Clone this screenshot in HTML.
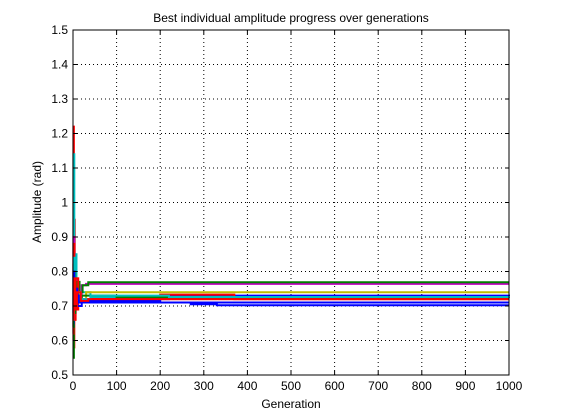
<!DOCTYPE html>
<html><head><meta charset="utf-8"><style>
body{margin:0;background:#fff;}
svg{display:block;font-family:"Liberation Sans",sans-serif;}
</style></head><body>
<svg id="chart" width="561" height="420" viewBox="0 0 561 420">
<rect x="0" y="0" width="561" height="420" fill="#fff"/>
<text x="291" y="22" font-size="12" text-anchor="middle">Best individual amplitude progress over generations</text>
<text x="291" y="408" font-size="12" text-anchor="middle">Generation</text>
<text transform="translate(41,202) rotate(-90)" font-size="12" text-anchor="middle">Amplitude (rad)</text>
<g id="grid"></g><g id="series"></g><g id="axes"></g>
</svg>
<script>
const xTicks=[0,100,200,300,400,500,600,700,800,900,1000];
const yTicks=[0.5,0.6,0.7,0.8,0.9,1,1.1,1.2,1.3,1.4,1.5];
const seriesColors=["#ff0000","#00bfbf","#0000ff","#bf00bf","#007f00","#bfbf00","#ff0000","#0000ff","#007f00","#00bfbf","#0000ff","#ff0000"];
const seriesGens=[
[0,1,2,3,4,5,8,12,20,1000],
[0,1,3,5,8,15,40,1000],
[0,2,4,6,10,20,80,220,1000],
[0,1,3,6,10,20,30,1000],
[0,2,5,8,15,22,35,1000],
[0,2,4,8,16,30,1000],
[0,1,3,6,12,200,370,700,1000],
[0,2,4,7,14,30,270,330,1000],
[0,1,3,5,9,20,100,1000],
[0,2,4,8,18,40,220,1000],
[0,1,3,6,10,25,200,1000],
[0,2,5,9,18,35,1000]
];
const seriesVals=[
[0.60,1.22,0.58,0.95,0.66,0.76,0.69,0.73,0.72,0.72],
[0.62,1.14,0.68,0.85,0.71,0.74,0.725,0.723],
[0.64,0.79,0.68,0.76,0.70,0.71,0.72,0.73,0.729],
[0.66,0.90,0.70,0.78,0.73,0.76,0.764,0.764],
[0.55,0.80,0.70,0.77,0.74,0.76,0.769,0.769],
[0.68,0.76,0.70,0.74,0.72,0.74,0.740],
[0.62,0.88,0.66,0.78,0.72,0.733,0.72,0.72,0.72],
[0.65,0.76,0.69,0.73,0.71,0.71,0.705,0.702,0.702],
[0.64,0.82,0.68,0.75,0.71,0.73,0.725,0.725],
[0.66,0.84,0.70,0.74,0.72,0.73,0.726,0.726],
[0.68,0.80,0.70,0.75,0.71,0.715,0.71,0.71],
[0.66,0.78,0.69,0.74,0.715,0.72,0.72]
];
const X0=73,X1=509,Y0=375,Y1=30;
function sx(g){return X0+(g-0)/(1000-0)*(X1-X0);}
function sy(v){return Y0-(v-0.5)/(1.5-0.5)*(Y0-Y1);}
const NS="http://www.w3.org/2000/svg";
const grid=document.getElementById('grid'),axes=document.getElementById('axes'),ser=document.getElementById('series');
function mk(tag,attrs,parent){const e=document.createElementNS(NS,tag);for(const k in attrs)e.setAttribute(k,attrs[k]);parent.appendChild(e);return e;}
xTicks.forEach(t=>{
  const x=sx(t);
  if(t>0&&t<1000){const l=mk('line',{x1:x,x2:x,y1:Y1,y2:Y0,stroke:'#000','stroke-dasharray':'1,3'},grid);
  
  }
  mk('line',{x1:x,x2:x,y1:Y0,y2:Y0-4,stroke:'#000'},axes);
  mk('line',{x1:x,x2:x,y1:Y1,y2:Y1+4,stroke:'#000'},axes);
  const tx=mk('text',{x:x,y:Y0+15,'font-size':12,'text-anchor':'middle'},axes);tx.textContent=t;
  
  
});
yTicks.forEach(t=>{
  const y=sy(t);
  if(t>0.5&&t<1.5){const l=mk('line',{x1:X0,x2:X1,y1:y,y2:y,stroke:'#000','stroke-dasharray':'1,3'},grid);
  
  }
  mk('line',{x1:X0,x2:X0+4,y1:y,y2:y,stroke:'#000'},axes);
  mk('line',{x1:X1,x2:X1-4,y1:y,y2:y,stroke:'#000'},axes);
  const tx=mk('text',{x:X0-5,y:y+4,'font-size':12,'text-anchor':'end'},axes);tx.textContent=(Math.round(t*10)/10).toString();
  
  
});
const box=mk('rect',{x:X0,y:Y1,width:X1-X0,height:Y0-Y1,fill:'none',stroke:'#000'},axes);


seriesGens.forEach((gs,i)=>{
  const vs=seriesVals[i];let d='M'+sx(gs[0])+','+sy(vs[0]);
  for(let k=1;k<gs.length;k++){d+=' L'+sx(gs[k])+','+sy(vs[k-1])+' L'+sx(gs[k])+','+sy(vs[k]);}
  const p=mk('path',{d:d,fill:'none',stroke:seriesColors[i],'stroke-width':2},ser);
  
  
});
</script>
</body></html>
